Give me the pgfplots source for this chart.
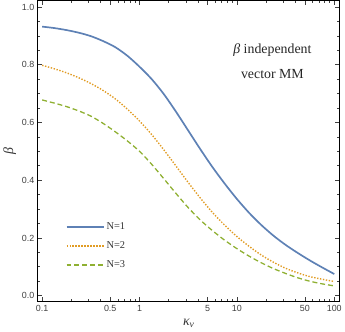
\documentclass[border=0pt]{standalone}
\usepackage{pgfplots}
\pgfplotsset{compat=1.18}
\usepackage{fontspec}
\setmainfont{Liberation Sans}
\newfontfamily\serifann{Liberation Serif}
\definecolor{mblue}{rgb}{0.368,0.507,0.710}
\definecolor{morange}{rgb}{0.881,0.611,0.142}
\definecolor{mgreen}{rgb}{0.560,0.692,0.195}
\begin{document}
\begin{tikzpicture}
\begin{axis}[
  scale only axis,
  width=305pt, height=304pt,
  xmode=log,
  xmin=0.09, xmax=114,
  ymin=-0.021, ymax=1.022,
  xtick={0.1,0.5,1,5,10,50,100},
  xticklabels={0.1,0.5,1,5,10,50,100},
  minor xtick={0.2,0.3,0.4,0.6,0.7,0.8,0.9,2,3,4,6,7,8,9,20,30,40,60,70,80,90},
  ytick={0,0.2,0.4,0.6,0.8,1.0},
  yticklabels={0.0,0.2,0.4,0.6,0.8,1.0},
  minor y tick num=3,
  tick align=inside,
  major tick length=4.5pt,
  minor tick length=2.5pt,
  tick style={black!75, line width=0.7pt},
  axis line style={black, line width=1.3pt},
  tick label style={font=\fontsize{9}{10}\selectfont, text=black!75},
  /pgf/number format/assume math mode=true,
  xlabel={\serifann\itshape κ\textsubscript{v}},
  ylabel={\serifann\itshape β},
  label style={font=\fontsize{14}{15}\selectfont, text=black!80},
  xlabel style={yshift=-1pt},
  ylabel style={yshift=-1pt},
  legend style={draw=none, fill=none, at={(0.082,0.275)}, anchor=north west,
    font=\serifann\fontsize{10.5}{12}\selectfont, row sep=6.5pt},
  legend cell align=left,
  legend image code/.code={\draw[#1] (0cm,0cm) -- (1.32cm,0cm);},
]
\addlegendimage{draw=mblue, line width=1.8pt}
\addlegendentry{\textcolor{black!80}{N=1}}
\addlegendimage{draw=morange, line width=1.3pt, dash pattern=on 1.4pt off 1.6pt}
\addlegendentry{\textcolor{black!80}{N=2}}
\addlegendimage{draw=mgreen, line width=1.4pt, dash pattern=on 5pt off 3pt}
\addlegendentry{\textcolor{black!80}{N=3}}
\addplot[color=mblue, line width=1.7pt, smooth, forget plot] coordinates {
  (0.1,0.932)(0.1334,0.927)(0.1778,0.920)(0.2371,0.911)(0.3162,0.899)(0.4217,0.882)
  (0.5623,0.861)(0.7499,0.831)(1,0.793)(1.334,0.750)(1.778,0.698)(2.371,0.637)
  (3.162,0.572)(4.217,0.507)(5.623,0.445)(7.499,0.388)(10,0.335)(13.34,0.287)
  (17.78,0.245)(23.71,0.208)(31.62,0.176)(42.17,0.148)(56.23,0.122)(74.99,0.098)(100,0.075)
};
\addplot[color=morange, line width=1.4pt, dash pattern=on 1.4pt off 1.6pt, smooth, forget plot] coordinates {
  (0.1,0.798)(0.1334,0.786)(0.1778,0.772)(0.2371,0.755)(0.3162,0.735)(0.4217,0.711)
  (0.5623,0.682)(0.7499,0.646)(1,0.605)(1.334,0.558)(1.778,0.505)(2.371,0.449)
  (3.162,0.392)(4.217,0.338)(5.623,0.288)(7.499,0.244)(10,0.205)(13.34,0.171)
  (17.78,0.141)(23.71,0.116)(31.62,0.095)(42.17,0.079)(56.23,0.066)(74.99,0.057)(100,0.049)
};
\addplot[color=mgreen, line width=1.3pt, dash pattern=on 5pt off 3pt, smooth, forget plot] coordinates {
  (0.1,0.678)(0.1334,0.667)(0.1778,0.655)(0.2371,0.640)(0.3162,0.622)(0.4217,0.597)
  (0.5623,0.568)(0.7499,0.536)(1,0.500)(1.334,0.455)(1.778,0.405)(2.371,0.354)
  (3.162,0.305)(4.217,0.262)(5.623,0.225)(7.499,0.192)(10,0.163)(13.34,0.137)
  (17.78,0.114)(23.71,0.094)(31.62,0.077)(42.17,0.062)(56.23,0.050)(74.99,0.041)(100,0.034)
};
\node[align=center, font=\serifann\fontsize{14}{25}\selectfont, text=black!85]
  at (rel axis cs:0.777,0.80) {\itshape β\upshape{} independent\\vector MM};
\end{axis}
\end{tikzpicture}
\end{document}
